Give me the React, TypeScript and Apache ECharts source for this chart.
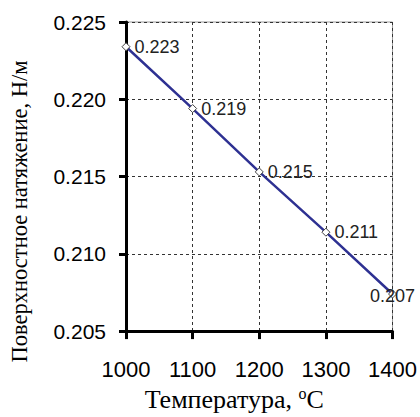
import React, { useEffect, useRef } from "react";
import * as echarts from "echarts";

const temperatures = [1000, 1100, 1200, 1300, 1400];
const tension = [0.2234, 0.2194, 0.2153, 0.2114, 0.2074];
const yTicks = [0.205, 0.21, 0.215, 0.22, 0.225];

export default function App() {
  const ref = useRef<HTMLDivElement>(null);
  useEffect(() => {
    if (!ref.current) return;
    document.body.style.margin = "0";
    document.body.style.overflow = "hidden";
    const chart = echarts.init(ref.current, null, { renderer: "svg" });
    const data = temperatures.map((t, i) => {
      const item: any = { value: [t, tension[i]] };
      if (i === temperatures.length - 1) {
        item.label = { position: "inside", offset: [0, 2] };
      }
      return item;
    });
    chart.setOption({
      animation: false,
      backgroundColor: "#fff",
      grid: {
        left: 122,
        top: 22,
        right: 26,
        bottom: 83,
        show: true,
        borderColor: "#999",
        borderWidth: 1,
        backgroundColor: "transparent",
      },
      xAxis: {
        type: "value",
        min: 1000,
        max: 1400,
        interval: 100,
        name: "Температура, {sup|o}C",
        nameLocation: "middle",
        nameGap: 50,
        nameTextStyle: {
          fontFamily: "Liberation Serif",
          fontSize: 26,
          color: "#000",
          padding: [0, 50, 0, 0],
          rich: {
            sup: { fontFamily: "Liberation Serif", fontSize: 16, color: "#000", verticalAlign: "top", padding: [0, 0, 12, 0] },
          },
        },
        axisLine: { show: true, lineStyle: { color: "#000", width: 3 } },
        axisTick: { show: true, length: 8, lineStyle: { color: "#000", width: 3 } },
        axisLabel: {
          fontFamily: "Liberation Sans",
          fontSize: 22,
          color: "#000",
          margin: 27,
          formatter: (v: number) => String(v),
        },
        splitLine: { show: true, lineStyle: { color: "#333", type: [3, 3], width: 1 } },
      },
      yAxis: {
        type: "value",
        min: 0.205,
        max: 0.225,
        interval: 0.005,
        name: "Поверхностное натяжение, Н/м",
        nameLocation: "middle",
        nameGap: 95,
        nameTextStyle: { fontFamily: "Liberation Serif", fontSize: 22.5, color: "#000", padding: [0, 70, 0, 0] },
        axisLine: { show: true, lineStyle: { color: "#000", width: 3 } },
        axisTick: { show: true, length: 7, lineStyle: { color: "#000", width: 3 } },
        axisLabel: {
          fontFamily: "Liberation Sans",
          fontSize: 21,
          color: "#000",
          margin: 20,
          formatter: (v: number) => {
            const m = yTicks.find((t) => Math.abs(t - v) < 1e-9);
            return (m ?? v).toFixed(3);
          },
        },
        splitLine: { show: true, lineStyle: { color: "#333", type: [3, 3], width: 1 } },
      },
      series: [
        {
          type: "line",
          data,
          symbol: "diamond",
          symbolSize: 8,
          itemStyle: { color: "#fff", borderColor: "#444", borderWidth: 1 },
          lineStyle: { color: "#2E3192", width: 2.5 },
          label: {
            show: true,
            position: "right",
            distance: 4,
            fontFamily: "Liberation Sans",
            fontSize: 18,
            color: "#222",
            formatter: (p: any) => p.value[1].toFixed(3),
          },
          z: 5,
        },
      ],
    });
    return () => chart.dispose();
  }, []);
  return <div ref={ref} style={{ position: "fixed", left: 0, top: 0, width: 420, height: 417 }} />;
}
